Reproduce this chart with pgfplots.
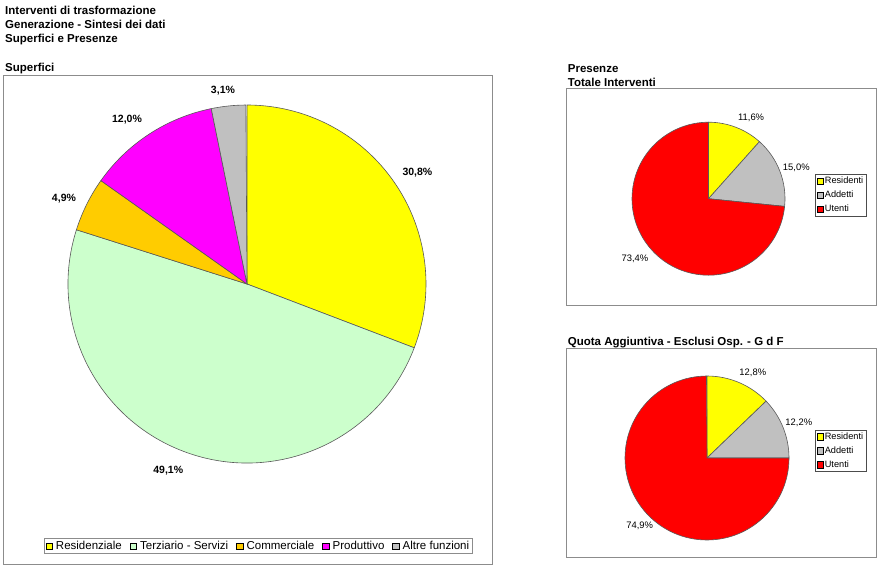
\documentclass[border=0pt]{standalone}
\usepackage{pgfplots}
\pgfplotsset{compat=1.18}
\usepackage{fontspec}
\setmainfont{Liberation Sans}

\definecolor{cRes}{HTML}{FFFF00}
\definecolor{cTer}{HTML}{CCFFCC}
\definecolor{cCom}{HTML}{FFCC00}
\definecolor{cPro}{HTML}{FF00FF}
\definecolor{cAlt}{HTML}{C0C0C0}
\definecolor{cUte}{HTML}{FF0000}
\definecolor{frame}{HTML}{8C8C8C}

\newcommand\titlefont{\bfseries\fontsize{11.5bp}{13bp}\selectfont}
\newcommand\bigpct{\bfseries\fontsize{10.5bp}{12bp}\selectfont}
\newcommand\smallpct{\fontsize{9.4bp}{11bp}\selectfont}

% #1 radius (bp), #2 label font,
% #3 list value/colour/label/label angle/label distance (bp, centre of label)
\newcommand\pie[3]{%
  \xdef\pieangle{90}%
  \foreach \v/\c/\l/\la/\ld in {#3}{%
    \pgfmathsetmacro\a{\pieangle}%
    \pgfmathsetmacro\b{\pieangle-3.6*\v}%
    \edef\temp{%
      \noexpand\filldraw[fill=\c, draw=black!65, line width=0.6bp]
        (axis cs:0,0) -- ++(\a:#1bp) arc[start angle=\a, end angle=\b, radius=#1bp] -- cycle;
      \noexpand\path (axis cs:0,0) ++(\la:\ld bp)
        node[anchor=center, inner sep=0bp, font=\noexpand#2] {\l\noexpand\%};
    }\temp
    \xdef\pieangle{\b}%
  }%
}

\pgfplotsset{
  pieaxis/.style={hide axis, clip=false, anchor=center,
    x=#1bp, y=#1bp, xmin=-1, xmax=1, ymin=-1, ymax=1,
    legend image code/.code={\draw[draw=black, line width=0.5bp, ##1] (0bp,-3.25bp) rectangle (6.5bp,3.25bp);},
    legend cell align=left},
  smalllegend/.style={legend style={draw=black!70, line width=0.5bp,
    font=\fontsize{9.2bp}{11bp}\selectfont, inner sep=1.5bp, row sep=3.4bp,
    nodes={inner sep=1.2bp}}}
}

\begin{document}
\begin{tikzpicture}
\useasboundingbox (0,0) rectangle (878bp,-568bp);

% frames
\draw[frame, line width=1bp] (3bp,-75bp) rectangle (492bp,-564bp);
\draw[frame, line width=1bp] (566bp,-88bp) rectangle (876bp,-305bp);
\draw[frame, line width=1bp] (566bp,-348bp) rectangle (876bp,-557bp);

% Superfici
\begin{axis}[pieaxis=179, at={(247bp,-284bp)},
  legend columns=-1,
  legend style={at={(0.531,-0.232)}, anchor=center, draw=frame, line width=0.8bp,
    font=\fontsize{11.5bp}{13bp}\selectfont, inner sep=1.5bp,
    nodes={inner sep=1.4bp},
    /tikz/every odd column/.append style={column sep=2bp},
    /tikz/every even column/.append style={column sep=6.5bp}}]
\addlegendimage{fill=cRes}\addlegendentry{Residenziale}
\addlegendimage{fill=cTer}\addlegendentry{Terziario - Servizi}
\addlegendimage{fill=cCom}\addlegendentry{Commerciale}
\addlegendimage{fill=cPro}\addlegendentry{Produttivo}
\addlegendimage{fill=cAlt}\addlegendentry{Altre funzioni}
\pie{179}{\bigpct}{30.8/cRes/{30,8}/33.2/203.7, 49.1/cTer/{49,1}/-112.9/202.4,
  4.9/cCom/{4,9}/155.1/201.8, 12.0/cPro/{12,0}/126.2/203.2, 3.1/cAlt/{3,1}/97.1/194.5}
\end{axis}

% Presenze - Totale Interventi
\begin{axis}[pieaxis=76.5, at={(708.5bp,-198.7bp)}, smalllegend,
  legend style={at={(1.363,0.523)}, anchor=center}]
\addlegendimage{fill=cRes}\addlegendentry{Residenti}
\addlegendimage{fill=cAlt}\addlegendentry{Addetti}
\addlegendimage{fill=cUte}\addlegendentry{Utenti}
\pie{76.5}{\smallpct}{11.6/cRes/{11,6}/62.3/91.7, 15.0/cAlt/{15,0}/19.6/93.2,
  73.4/cUte/{73,4}/-140.7/95.0}
\end{axis}

% Quota Aggiuntiva
\begin{axis}[pieaxis=82, at={(707bp,-458bp)}, smalllegend,
  legend style={at={(1.314,0.545)}, anchor=center}]
\addlegendimage{fill=cRes}\addlegendentry{Residenti}
\addlegendimage{fill=cAlt}\addlegendentry{Addetti}
\addlegendimage{fill=cUte}\addlegendentry{Utenti}
\pie{82}{\smallpct}{12.8/cRes/{12,8}/61.7/96.6, 12.2/cAlt/{12,2}/20.8/98.2,
  74.9/cUte/{74,9}/-134.9/95.3}
\end{axis}

% titles
\begin{scope}[every node/.style={anchor=base west, inner sep=0pt, font=\titlefont}]
\node at (5bp,-14bp) {Interventi di trasformazione};
\node at (5bp,-28bp) {Generazione - Sintesi dei dati};
\node at (5bp,-42.7bp) {Superfici e Presenze};
\node at (5bp,-71bp) {Superfici};
\node at (567.7bp,-72.3bp) {Presenze};
\node at (567.7bp,-86bp) {Totale Interventi};
\node at (567.7bp,-345bp) {Quota Aggiuntiva - Esclusi Osp. - G d F};
\end{scope}
\end{tikzpicture}
\end{document}
